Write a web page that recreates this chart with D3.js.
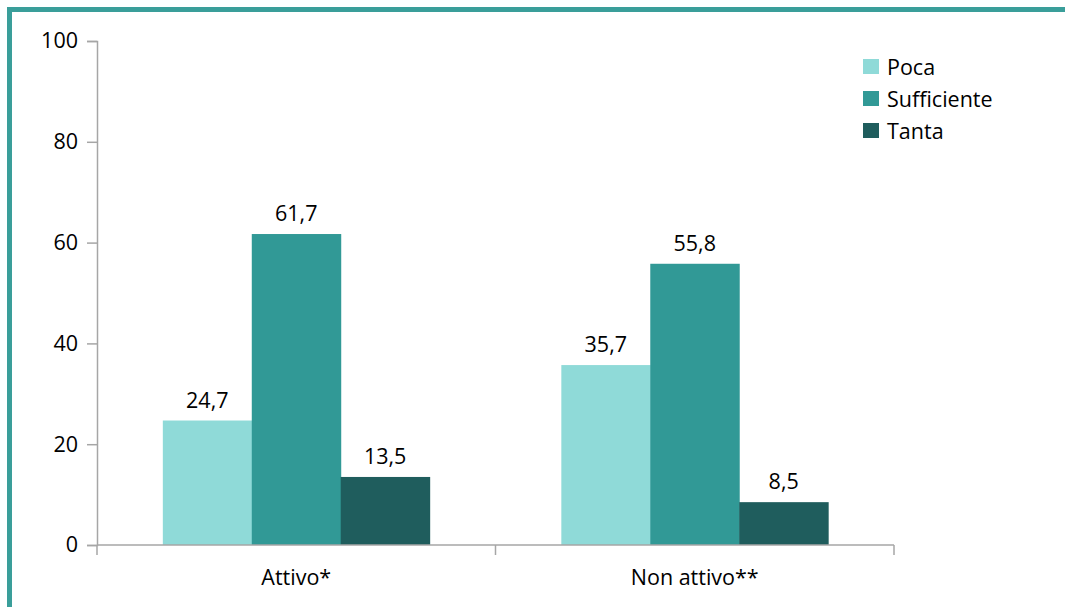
<!DOCTYPE html>
<html>
<head>
<meta charset="utf-8">
<script src="https://cdn.jsdelivr.net/npm/d3@7"></script>
<style>
  html, body { margin: 0; padding: 0; background: #fff; }
  svg { display: block; font-family: "Open Sans", "Noto Sans", sans-serif; }
</style>
</head>
<body>
<svg id="chart" width="1070" height="607"></svg>
<script>
// Groups along the x axis
const categories = ["Attivo*", "Non attivo**"];
// Answer levels shown as series
const seriesNames = ["Poca", "Sufficiente", "Tanta"];
// Percentages per series, in the order of categories
const poca = [24.7, 35.7];
const sufficiente = [61.7, 55.8];
const tanta = [13.5, 8.5];
// Y axis tick values
const yTicks = [0, 20, 40, 60, 80, 100];

const seriesValues = [poca, sufficiente, tanta];
const colors = ["#8fdad8", "#319996", "#1f5d5d"];

const svg = d3.select("#chart");

// Frame: thick teal stroke on top and left
const frame = "#3a9e9a";
svg.append("rect").attr("x", 7).attr("y", 7).attr("width", 1058).attr("height", 5).attr("fill", frame);
svg.append("rect").attr("x", 7).attr("y", 7).attr("width", 5).attr("height", 600).attr("fill", frame);

const plotLeft = 97, plotRight = 894, plotTop = 41, plotBottom = 545;

const x0 = d3.scaleBand().domain(categories).range([plotLeft, plotRight]).paddingInner(0).paddingOuter(0);
const x1 = d3.scaleBand().domain(seriesNames).range([0, x0.bandwidth()]).paddingInner(0).paddingOuter(0.74);
const y = d3.scaleLinear().domain([0, 100]).range([plotBottom, plotTop]);

const axisColor = "#a6a6a6";
const fontSize = 21.5;

// Y axis
const yAxis = svg.append("g").attr("transform", `translate(${plotLeft},0)`)
  .call(d3.axisLeft(y).tickValues(yTicks).tickSize(10).tickPadding(9).tickFormat(d3.format("d")));
yAxis.select(".domain").attr("stroke", axisColor).attr("stroke-width", 1.5);
yAxis.selectAll(".tick line").attr("stroke", axisColor).attr("stroke-width", 1.5);
yAxis.selectAll(".tick text").attr("fill", "#000").style("font-size", fontSize + "px").style("font-family", "'Open Sans', sans-serif");

// Bars
const groups = svg.append("g").selectAll("g")
  .data(categories)
  .join("g")
  .attr("transform", d => `translate(${x0(d)},0)`);

groups.each(function(cat, ci) {
  const g = d3.select(this);
  seriesNames.forEach((s, si) => {
    const v = seriesValues[si][ci];
    g.append("rect")
      .attr("x", x1(s))
      .attr("y", y(v))
      .attr("width", x1.bandwidth() + 0.5)
      .attr("height", plotBottom - y(v))
      .attr("fill", colors[si]);
    g.append("text")
      .attr("x", x1(s) + x1.bandwidth() / 2)
      .attr("y", y(v) - 13)
      .attr("text-anchor", "middle")
      .style("font-size", fontSize + "px")
      .attr("fill", "#000")
      .text(d3.format(".1f")(v).replace(".", ","));
  });
});

// X axis
const xAxis = svg.append("g").attr("transform", `translate(0,${plotBottom})`);
xAxis.append("line").attr("x1", plotLeft).attr("x2", plotRight).attr("y1", 0).attr("y2", 0)
  .attr("stroke", axisColor).attr("stroke-width", 1.5);
const boundaries = [plotLeft, ...categories.map(c => x0(c) + x0.bandwidth())];
xAxis.selectAll("line.tk").data(boundaries).join("line").attr("class", "tk")
  .attr("x1", d => d).attr("x2", d => d).attr("y1", 0).attr("y2", 10)
  .attr("stroke", axisColor).attr("stroke-width", 1.5);
xAxis.selectAll("text").data(categories).join("text")
  .attr("x", d => x0(d) + x0.bandwidth() / 2)
  .attr("y", 40)
  .attr("text-anchor", "middle")
  .style("font-size", fontSize + "px")
  .attr("fill", "#000")
  .text(d => d);

// Legend
const legend = svg.append("g").attr("transform", "translate(863,59)");
seriesNames.forEach((s, i) => {
  const row = legend.append("g").attr("transform", `translate(0,${i * 32})`);
  row.append("rect").attr("width", 16).attr("height", 15).attr("fill", colors[i]);
  row.append("text").attr("x", 24).attr("y", 8).attr("dy", "0.35em")
    .style("font-size", fontSize + "px").attr("fill", "#000").text(s);
});
</script>
</body>
</html>
